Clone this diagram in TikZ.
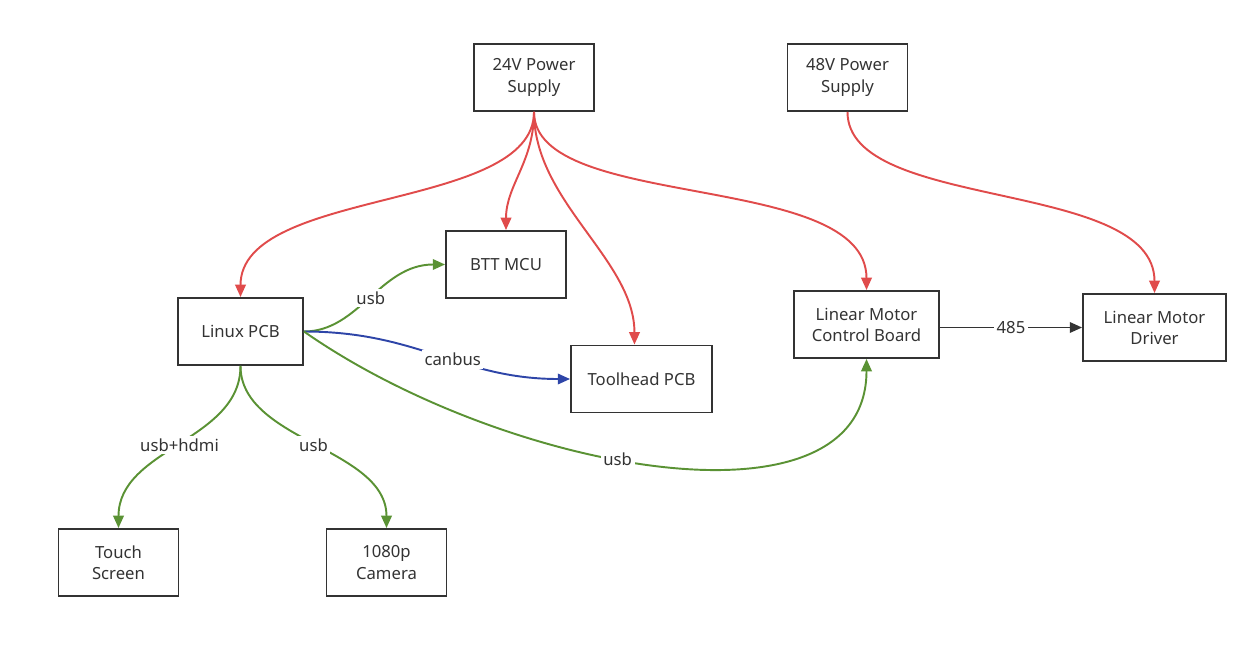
\documentclass[tikz,border=0pt]{standalone}
\usepackage{fontspec}
\setmainfont{Noto Sans}
\usetikzlibrary{arrows.meta, positioning}

\definecolor{pwrred}{HTML}{E04B4B}
\definecolor{usbgreen}{HTML}{5A9234}
\definecolor{canblue}{HTML}{2E45A8}
\definecolor{ink}{HTML}{333333}

\begin{document}
\begin{tikzpicture}[x=0.02cm, y=-0.02cm,
  every node/.style={font=\fontsize{9.5}{12}\selectfont, text=ink},
  box/.style={draw=ink, line width=1.1pt, align=center, minimum height=1.34cm, inner sep=2pt},
  link/.style={line width=1.1pt, -{Triangle[length=7pt, width=6pt]}},
  power/.style={link, pwrred},
  usb/.style={link, usbgreen},
  can/.style={link, canblue},
  serial/.style={link, ink},
  lbl/.style={fill=white, inner sep=1.5pt}]
\useasboundingbox (0,0) rectangle (1260,645);

\node[box, minimum width=2.4cm] (ps24) at (534,77.5) {24V Power\\Supply};
\node[box, minimum width=2.4cm] (ps48) at (847.5,77.5) {48V Power\\Supply};
\node[box, minimum width=2.4cm] (btt) at (506,264.5) {BTT MCU};
\node[box, minimum width=2.5cm] (linux) at (240.5,331.5) {Linux PCB};
\node[box, minimum width=2.82cm] (toolhead) at (641.5,379) {Toolhead PCB};
\node[box, minimum width=2.9cm] (ctrl) at (866.5,324.5) {Linear Motor\\Control Board};
\node[box, minimum width=2.86cm] (driver) at (1154.5,327.5) {Linear Motor\\Driver};
\node[box, minimum width=2.4cm] (touch) at (118.5,562.5) {Touch\\Screen};
\node[box, minimum width=2.4cm] (camera) at (386.5,562.5) {1080p\\Camera};

% power
\draw[power] (ps24.south) .. controls +(0,100) and +(0,-110) .. (linux.north);
\draw[power] (ps24.south) .. controls +(0,50) and +(0,-45) .. (btt.north);
\draw[power] (ps24.south) .. controls +(0,90) and +(0,-85) .. ([xshift=-4] toolhead.north);
\draw[power] (ps24.south) .. controls +(0,100) and +(0,-120) .. (ctrl.north);
\draw[power] (ps48.south) .. controls +(0,100) and +(0,-115) .. (driver.north);

% data
\draw[usb] (linux.east) .. controls +(55,0) and +(-65,0) .. node[lbl] {usb} (btt.west);
\draw[can] (linux.east) .. controls +(115,0) and +(-110,0) .. node[lbl, pos=0.56] {canbus} (toolhead.west);
\draw[usb] (linux.east) .. controls +(200,140) and +(0,180) .. node[lbl, pos=0.44] {usb} (ctrl.south);
\draw[usb] (linux.south) .. controls +(0,75) and +(0,-80) .. node[lbl] {usb+hdmi} (touch.north);
\draw[usb] (linux.south) .. controls +(0,75) and +(0,-80) .. node[lbl] {usb} (camera.north);
\draw[serial] (ctrl.east |- driver.west) -- node[lbl] {485} (driver.west);
\end{tikzpicture}
\end{document}
